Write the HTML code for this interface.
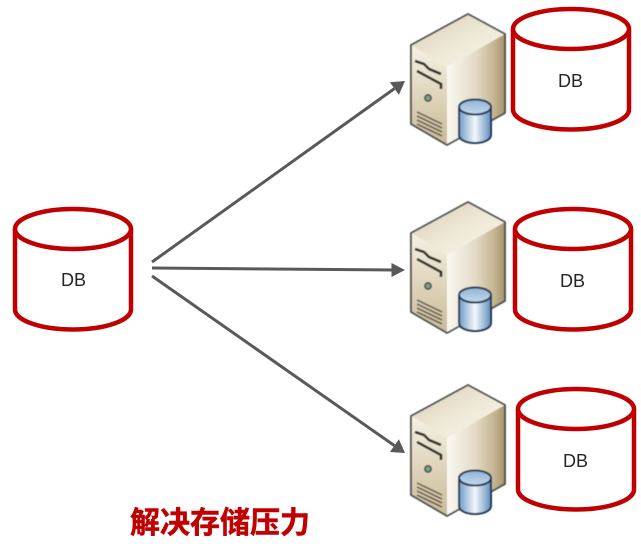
<!DOCTYPE html>
<html><head><meta charset="utf-8"><style>
html,body{margin:0;padding:0;background:#fff}
svg{display:block}
text{font-family:"Liberation Sans","Noto Sans CJK SC",sans-serif}
</style></head><body>
<svg width="641" height="547" viewBox="0 0 641 547" xmlns="http://www.w3.org/2000/svg">
<defs>
<filter id="soft" x="-5%" y="-5%" width="110%" height="110%"><feGaussianBlur stdDeviation=".45"/></filter>
<linearGradient id="top" x1="0" y1="0" x2="1" y2="1"><stop offset="0" stop-color="#d9ceb4"/><stop offset=".55" stop-color="#efe9d8"/><stop offset="1" stop-color="#f7f4ea"/></linearGradient>
<linearGradient id="left" x1="0" y1="0" x2="0" y2="1"><stop offset="0" stop-color="#f5f1e5"/><stop offset=".45" stop-color="#e2d8c0"/><stop offset="1" stop-color="#c9ba97"/></linearGradient>
<linearGradient id="right" x1="0" y1="0" x2="1" y2="0"><stop offset="0" stop-color="#fbf9f3"/><stop offset=".5" stop-color="#e3dac5"/><stop offset=".8" stop-color="#c6b794"/><stop offset="1" stop-color="#a8946a"/></linearGradient>
<linearGradient id="can" x1="0" y1="0" x2="1" y2="0"><stop offset="0" stop-color="#6f9cc8"/><stop offset=".5" stop-color="#f4f8fc"/><stop offset="1" stop-color="#5d8dbd"/></linearGradient>
<linearGradient id="cantop" x1="0" y1="0" x2="0" y2="1"><stop offset="0" stop-color="#8fb3d6"/><stop offset="1" stop-color="#c5d9ec"/></linearGradient>
<g id="srv" filter="url(#soft)">
<path d="M411 45L468 14L505 34L447 67Z" fill="url(#top)"/>
<path d="M411 45L447 67V145L411 124Z" fill="url(#left)"/>
<path d="M447 67L505 34V113L447 145Z" fill="url(#right)"/>
<path d="M411 45L468 14L505 34V113L447 145L411 124Z" fill="none" stroke="#454a4a" stroke-width="1.800" stroke-linejoin="round"/>
<path d="M415 61L424 64L429 69L441 74M417 71L441 84V89" fill="none" stroke="#2c2c28" stroke-width="2.600"/>
<circle cx="428" cy="98" r="3.200" fill="#7fa088" stroke="#3a4a40" stroke-width="1.500"/>
<path d="M417 112L442 124M417 116L442 128M417 120L442 132M417 124L442 136" stroke="#4c4a40" stroke-width="1.500" fill="none"/>
<path d="M459 108V135C459 140 467 143 475 143C483 143 491 140 491 135V108Z" fill="url(#can)" stroke="#1f3550" stroke-width="2"/>
<ellipse cx="475" cy="107" rx="16" ry="7.500" fill="url(#cantop)" stroke="#1f3550" stroke-width="2"/>
</g>
<g id="cyl" fill="none" stroke="#c00000" stroke-width="4.500">
<path d="M0 21V101.500A58 20 0 0 0 116 101.500V21" fill="#fff"/>
<ellipse cx="58" cy="21" rx="58" ry="20" fill="#fff"/>
</g>
</defs>
<g stroke="#595959" stroke-width="3" fill="none">
<path d="M152 262L394.400 88.600"/>
<path d="M152 268L392 270"/>
<path d="M152 276L394.400 445.600"/>
</g>
<g fill="#595959">
<path d="M405 81L398.900 94.900L389.900 82.300Z"/>
<path d="M405 270L391.500 263V277Z"/>
<path d="M405 453L389.900 452L398.900 439.300Z"/>
</g>
<use href="#srv"/>
<use href="#srv" y="188"/>
<use href="#srv" y="371"/>
<use href="#cyl" x="513" y="8"/>
<use href="#cyl" x="515" y="208"/>
<use href="#cyl" x="518" y="388"/>
<use href="#cyl" x="15" y="208"/>
<g font-size="18" fill="#262626" text-anchor="middle">
<text x="570.500" y="87">DB</text>
<text x="572.500" y="287">DB</text>
<text x="575.500" y="467">DB</text>
<text x="73.500" y="286">DB</text>
</g>
<text x="130" y="533" font-size="30" font-weight="700" fill="#c00000" stroke="#c00000" stroke-width=".5">解决存储压力</text>
</svg>
</body></html>
